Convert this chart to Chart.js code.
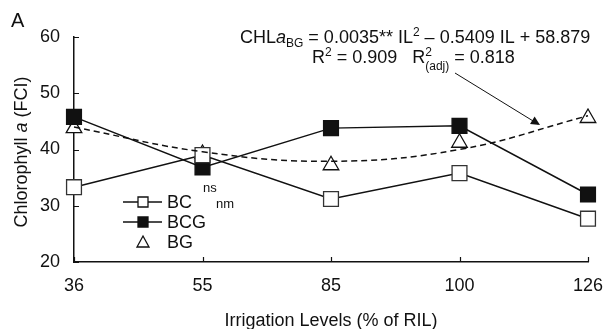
<!DOCTYPE html>
<html>
<head>
<meta charset="utf-8">
<script src="https://cdn.jsdelivr.net/npm/chart.js@4.4.0/dist/chart.umd.min.js"></script>
<style>
  html, body { margin: 0; padding: 0; background: #fff; }
  #wrap { width: 604px; height: 329px; }
</style>
</head>
<body>
<div id="wrap"><canvas id="myChart"></canvas></div>
<script>
var levels = ['36', '55', '85', '100', '126'];
var bcValues = [33.3, 39.0, 31.2, 35.8, 27.7];
var bcgValues = [45.8, 36.8, 43.8, 44.2, 32.0];
var bgValues = [43.8, 39.2, 37.2, 41.2, 45.6];
var bgFit = [44.0, 39.6, 37.9, 40.0, 46.0];
var yTicks = [20, 30, 40, 50, 60];

var FONT = '"Liberation Sans", Arial, sans-serif';
var INK = '#111';

function txt(ctx, s, x, y, size, style) {
    ctx.font = (style || '') + ' ' + size + 'px ' + FONT;
    ctx.fillText(s, x, y);
    return x + ctx.measureText(s).width;
}

var extras = {
    id: 'extras',
    afterDraw: function(chart) {
        var ctx = chart.ctx;
        var xs = chart.scales.x, ys = chart.scales.y;
        ctx.save();
        ctx.strokeStyle = INK;
        ctx.fillStyle = INK;
        ctx.lineWidth = 1.2;

        // inside ticks
        ctx.beginPath();
        yTicks.forEach(function(v) {
            var py = Math.round(ys.getPixelForValue(v)) + 0.5;
            ctx.moveTo(xs.left, py);
            ctx.lineTo(xs.left + 5, py);
        });
        levels.forEach(function(l, i) {
            var px = Math.round(xs.getPixelForValue(i)) + 0.5;
            ctx.moveTo(px, ys.bottom);
            ctx.lineTo(px, ys.bottom - 5);
        });
        ctx.stroke();

        ctx.textBaseline = 'alphabetic';
        ctx.textAlign = 'left';

        // panel letter
        txt(ctx, 'A', 11, 27, 20);

        // y title
        ctx.save();
        ctx.translate(27, 152);
        ctx.rotate(-Math.PI / 2);
        ctx.font = '18px ' + FONT;
        var p1 = 'Chlorophyll ', p3 = ' (FCI)';
        var w1 = ctx.measureText(p1).width;
        ctx.font = 'italic 18px ' + FONT;
        var w2 = ctx.measureText('a').width;
        ctx.font = '18px ' + FONT;
        var w3 = ctx.measureText(p3).width;
        var sx = -(w1 + w2 + w3) / 2;
        sx = txt(ctx, p1, sx, 0, 18);
        sx = txt(ctx, 'a', sx, 0, 18, 'italic');
        txt(ctx, p3, sx, 0, 18);
        ctx.restore();

        // x title
        ctx.textAlign = 'center';
        txt(ctx, 'Irrigation Levels (% of RIL)', 331, 326, 18);
        ctx.textAlign = 'left';

        // equation
        var x = 240, y = 43;
        x = txt(ctx, 'CHL', x, y, 18);
        x = txt(ctx, 'a', x, y, 18, 'italic');
        x = txt(ctx, 'BG', x, y + 4, 12);
        x = txt(ctx, ' = 0.0035** IL', x, y, 18);
        x = txt(ctx, '2', x, y - 7, 12);
        txt(ctx, ' \u2013 0.5409 IL + 58.879', x, y, 18);

        x = 312; y = 63;
        x = txt(ctx, 'R', x, y, 18);
        x = txt(ctx, '2', x, y - 7, 12);
        x = txt(ctx, ' = 0.909   R', x, y, 18);
        var sup = txt(ctx, '2', x, y - 7, 12);
        var sub = txt(ctx, '(adj)', x, y + 7, 12);
        txt(ctx, ' = 0.818', Math.max(sup, sub), y, 18);

        // arrow to fitted curve
        var tx = 538, ty = 124;
        ctx.beginPath();
        ctx.lineWidth = 1;
        ctx.moveTo(455, 73);
        ctx.lineTo(tx, ty);
        ctx.stroke();
        var ang = Math.atan2(ty - 73, tx - 455);
        ctx.beginPath();
        ctx.moveTo(tx + 2, ty + 1);
        ctx.lineTo(tx + 2 - 10 * Math.cos(ang - 0.45), ty + 1 - 10 * Math.sin(ang - 0.45));
        ctx.lineTo(tx + 2 - 10 * Math.cos(ang + 0.45), ty + 1 - 10 * Math.sin(ang + 0.45));
        ctx.closePath();
        ctx.fill();

        // significance marks
        txt(ctx, 'ns', 203, 192, 13);
        txt(ctx, 'nm', 216, 208, 13);

        // legend
        var rows = [
            {label: 'BC', y: 202, line: true, style: 'rect', fill: '#fff'},
            {label: 'BCG', y: 222, line: true, style: 'rect', fill: INK},
            {label: 'BG', y: 242, line: false, style: 'triangle', fill: '#fff'}
        ];
        rows.forEach(function(r) {
            ctx.lineWidth = 1.3;
            ctx.strokeStyle = INK;
            if (r.line) {
                ctx.beginPath();
                ctx.moveTo(123, r.y);
                ctx.lineTo(162, r.y);
                ctx.stroke();
            }
            ctx.fillStyle = r.fill;
            ctx.beginPath();
            if (r.style === 'rect') {
                ctx.rect(138, r.y - 5, 10, 10);
            } else {
                ctx.moveTo(143, r.y - 6);
                ctx.lineTo(149, r.y + 5);
                ctx.lineTo(137, r.y + 5);
                ctx.closePath();
            }
            ctx.fill();
            ctx.stroke();
            ctx.fillStyle = INK;
            ctx.textBaseline = 'middle';
            txt(ctx, r.label, 167, r.y + 1, 18);
            ctx.textBaseline = 'alphabetic';
        });
        ctx.restore();
    }
};

var ctx = document.getElementById('myChart').getContext('2d');
var myChart = new Chart(ctx, {
    type: 'line',
    data: {
        labels: levels,
        datasets: [{
            label: 'BG fit',
            data: bgFit,
            borderColor: INK,
            borderWidth: 1.5,
            borderDash: [6, 4],
            tension: 0.4,
            pointRadius: 0,
            fill: false
        }, {
            label: 'BC',
            data: bcValues,
            borderColor: INK,
            borderWidth: 1.5,
            pointStyle: 'rect',
            pointRadius: 10.5,
            pointBorderWidth: 1.3,
            pointBackgroundColor: '#fff',
            pointBorderColor: '#333',
            tension: 0
        }, {
            label: 'BCG',
            data: bcgValues,
            borderColor: INK,
            borderWidth: 1.5,
            pointStyle: 'rect',
            pointRadius: 10.5,
            pointBorderWidth: 1.3,
            pointBackgroundColor: INK,
            pointBorderColor: INK,
            tension: 0
        }, {
            label: 'BG',
            data: bgValues,
            showLine: false,
            pointStyle: 'triangle',
            pointRadius: 9,
            pointBorderWidth: 1.3,
            pointBackgroundColor: '#fff',
            pointBorderColor: INK
        }]
    },
    options: {
        responsive: true,
        maintainAspectRatio: false,
        animation: false,
        layout: {padding: {left: 0, right: 0, top: 37, bottom: 0}},
        plugins: {
            legend: {display: false},
            tooltip: {enabled: false}
        },
        scales: {
            x: {
                offset: false,
                grid: {display: true, drawOnChartArea: false, drawTicks: false},
                border: {display: true, color: INK, width: 1.5},
                ticks: {color: INK, font: {family: FONT, size: 18}, padding: 13, maxRotation: 0},
                afterFit: function(s) { s.height = 67; s.paddingRight = 16; }
            },
            y: {
                min: 20,
                max: 60,
                grid: {display: true, drawOnChartArea: false, drawTicks: false},
                border: {display: true, color: INK, width: 1.5},
                ticks: {color: INK, font: {family: FONT, size: 18}, padding: 14, stepSize: 10},
                afterFit: function(s) { s.width = 74; }
            }
        }
    },
    plugins: [extras]
});
</script>
</body>
</html>
